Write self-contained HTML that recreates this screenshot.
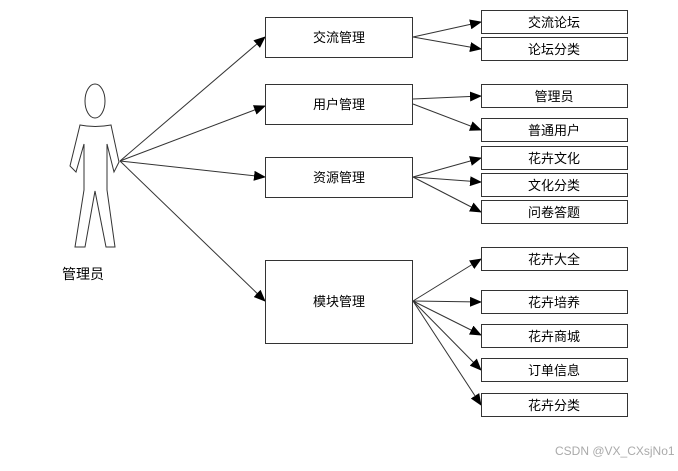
<!DOCTYPE html>
<html><head><meta charset="utf-8"><style>
html,body{margin:0;padding:0;background:#fff;}
svg text{font-family:"Liberation Sans","Noto Sans CJK SC",sans-serif;font-size:13px;fill:#000;}
</style></head><body>
<svg width="678" height="466" viewBox="0 0 678 466" xmlns="http://www.w3.org/2000/svg">
<defs><marker id="a" markerWidth="12" markerHeight="10" refX="11" refY="5" orient="auto" markerUnits="userSpaceOnUse"><path d="M0,0 L12,5 L0,10 Z" fill="#000"/></marker></defs>
<g fill="#fff" stroke="#333" stroke-width="1">
<ellipse cx="95" cy="101" rx="10" ry="17"/>
<path d="M80,125 Q95,128 111,125 L119,162 L114,172 L107,144 L107,190 L115,247 L106,247 L95,191 L85,247 L75,247 L84,190 L84,144 L76,172 L70,166 Z"/>
</g>
<text x="62" y="279" style="font-size:14px">管理员</text>
<g stroke="#333" stroke-width="1" fill="none" marker-end="url(#a)">
<line x1="120" y1="161" x2="265" y2="37"/>
<line x1="120" y1="161" x2="265" y2="106"/>
<line x1="120" y1="161" x2="265" y2="177"/>
<line x1="120" y1="161" x2="265" y2="301"/>
<line x1="413" y1="37" x2="481" y2="22"/>
<line x1="413" y1="37" x2="481" y2="49"/>
<line x1="413" y1="99" x2="481" y2="96"/>
<line x1="413" y1="104" x2="481" y2="130"/>
<line x1="413" y1="177" x2="481" y2="158"/>
<line x1="413" y1="177" x2="481" y2="182"/>
<line x1="413" y1="177" x2="481" y2="212"/>
<line x1="413" y1="301" x2="481" y2="259"/>
<line x1="413" y1="301" x2="481" y2="302"/>
<line x1="413" y1="301" x2="481" y2="335"/>
<line x1="413" y1="301" x2="481" y2="370"/>
<line x1="413" y1="301" x2="481" y2="405"/>
</g>
<g fill="#fff" stroke="#333" stroke-width="1">
<rect x="265.5" y="17.5" width="147" height="40"/>
<rect x="265.5" y="84.5" width="147" height="40"/>
<rect x="265.5" y="157.5" width="147" height="40"/>
<rect x="265.5" y="260.5" width="147" height="83"/>
<rect x="481.5" y="10.5" width="146" height="23"/>
<rect x="481.5" y="37.5" width="146" height="23"/>
<rect x="481.5" y="84.5" width="146" height="23"/>
<rect x="481.5" y="118.5" width="146" height="23"/>
<rect x="481.5" y="146.5" width="146" height="23"/>
<rect x="481.5" y="173.5" width="146" height="23"/>
<rect x="481.5" y="200.5" width="146" height="23"/>
<rect x="481.5" y="247.5" width="146" height="23"/>
<rect x="481.5" y="290.5" width="146" height="23"/>
<rect x="481.5" y="324.5" width="146" height="23"/>
<rect x="481.5" y="358.5" width="146" height="23"/>
<rect x="481.5" y="393.5" width="146" height="23"/>
</g>
<g text-anchor="middle">
<text x="339" y="42">交流管理</text>
<text x="339" y="109">用户管理</text>
<text x="339" y="182">资源管理</text>
<text x="339" y="306">模块管理</text>
<text x="554" y="27">交流论坛</text>
<text x="554" y="54">论坛分类</text>
<text x="554" y="101">管理员</text>
<text x="554" y="135">普通用户</text>
<text x="554" y="163">花卉文化</text>
<text x="554" y="190">文化分类</text>
<text x="554" y="217">问卷答题</text>
<text x="554" y="264">花卉大全</text>
<text x="554" y="307">花卉培养</text>
<text x="554" y="341">花卉商城</text>
<text x="554" y="375">订单信息</text>
<text x="554" y="410">花卉分类</text>
</g>
<text x="555" y="455" style="font-size:12px;fill:#aaa">CSDN @VX_CXsjNo1</text>
</svg>
</body></html>
